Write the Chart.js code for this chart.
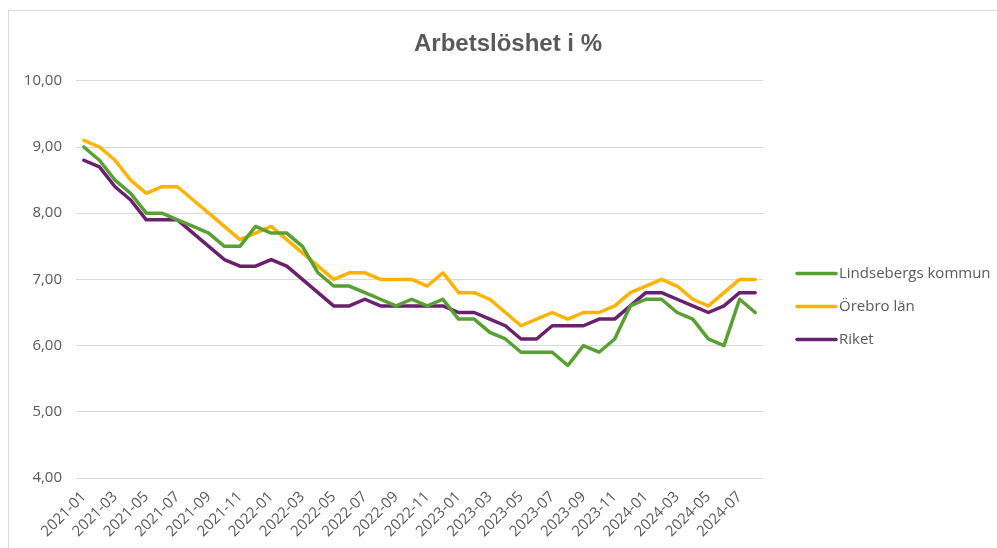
<!DOCTYPE html>
<html>
<head>
<meta charset="utf-8">
<script src="https://cdn.jsdelivr.net/npm/chart.js@4/dist/chart.umd.min.js"></script>
<style>
  html, body { margin: 0; padding: 0; background: #ffffff; }
  #wrap { position: absolute; left: 8px; top: 10px; width: 989px; height: 538px;
          border-left: 1px solid #d9d9d9; border-top: 1px solid #d9d9d9; box-sizing: border-box; }
  canvas { display: block; }
</style>
</head>
<body>
<div id="wrap"><canvas id="c" width="988" height="537"></canvas></div>
<script>
const months = [
  "2021-01","2021-02","2021-03","2021-04","2021-05","2021-06","2021-07","2021-08","2021-09","2021-10","2021-11","2021-12",
  "2022-01","2022-02","2022-03","2022-04","2022-05","2022-06","2022-07","2022-08","2022-09","2022-10","2022-11","2022-12",
  "2023-01","2023-02","2023-03","2023-04","2023-05","2023-06","2023-07","2023-08","2023-09","2023-10","2023-11","2023-12",
  "2024-01","2024-02","2024-03","2024-04","2024-05","2024-06","2024-07","2024-08"
];
const lindesberg = [
  9.0, 8.8, 8.5, 8.3, 8.0, 8.0, 7.9, 7.8, 7.7, 7.5, 7.5, 7.8,
  7.7, 7.7, 7.5, 7.1, 6.9, 6.9, 6.8, 6.7, 6.6, 6.7, 6.6, 6.7,
  6.4, 6.4, 6.2, 6.1, 5.9, 5.9, 5.9, 5.7, 6.0, 5.9, 6.1, 6.6,
  6.7, 6.7, 6.5, 6.4, 6.1, 6.0, 6.7, 6.5
];
const orebroLan = [
  9.1, 9.0, 8.8, 8.5, 8.3, 8.4, 8.4, 8.2, 8.0, 7.8, 7.6, 7.7,
  7.8, 7.6, 7.4, 7.2, 7.0, 7.1, 7.1, 7.0, 7.0, 7.0, 6.9, 7.1,
  6.8, 6.8, 6.7, 6.5, 6.3, 6.4, 6.5, 6.4, 6.5, 6.5, 6.6, 6.8,
  6.9, 7.0, 6.9, 6.7, 6.6, 6.8, 7.0, 7.0
];
const riket = [
  8.8, 8.7, 8.4, 8.2, 7.9, 7.9, 7.9, 7.7, 7.5, 7.3, 7.2, 7.2,
  7.3, 7.2, 7.0, 6.8, 6.6, 6.6, 6.7, 6.6, 6.6, 6.6, 6.6, 6.6,
  6.5, 6.5, 6.4, 6.3, 6.1, 6.1, 6.3, 6.3, 6.3, 6.4, 6.4, 6.6,
  6.8, 6.8, 6.7, 6.6, 6.5, 6.6, 6.8, 6.8
];
const seriesNames = ["Lindsebergs kommun", "Örebro län", "Riket"];
const yTicks = [4, 5, 6, 7, 8, 9, 10];

const FONT = "'Open Sans', 'Liberation Sans', sans-serif";
const GREY = "#595959";

const mk = (label, data, color) => ({
  label, data, borderColor: color, backgroundColor: color,
  borderWidth: 3.5, pointRadius: 0, pointHoverRadius: 0, tension: 0,
  borderJoinStyle: 'round', borderCapStyle: 'round', fill: false, yAxisID: 'y'
});

// Legend drawn at the right, next to the plot area
const sideLegend = {
  id: 'sideLegend',
  afterDraw(chart) {
    const ctx = chart.ctx;
    const x0 = chart.chartArea.right + 34;
    const yMid = (chart.chartArea.top + chart.chartArea.bottom) / 2 + 27;
    const step = 33;
    ctx.save();
    ctx.font = "15px " + FONT;
    ctx.textBaseline = 'middle';
    ctx.textAlign = 'left';
    chart.data.datasets.forEach((ds, i) => {
      const y = yMid + (i - 1) * step;
      ctx.strokeStyle = ds.borderColor;
      ctx.lineWidth = 3.5;
      ctx.lineCap = 'round';
      ctx.beginPath();
      ctx.moveTo(x0, y);
      ctx.lineTo(x0 + 39, y);
      ctx.stroke();
      ctx.fillStyle = GREY;
      ctx.fillText(ds.label, x0 + 42, y);
    });
    ctx.restore();
  }
};

new Chart(document.getElementById('c'), {
  type: 'line',
  data: {
    labels: months,
    datasets: [
      mk(seriesNames[0], lindesberg, "#57A133"),
      mk(seriesNames[1], orebroLan, "#FFB300"),
      mk(seriesNames[2], riket, "#6A206E")
    ]
  },
  plugins: [sideLegend],
  options: {
    responsive: false,
    animation: false,
    layout: { padding: { left: 10, right: 0, top: 0, bottom: 0 } },
    plugins: {
      title: {
        display: true, text: "Arbetslöshet i %", color: GREY,
        font: { family: "'Liberation Sans Narrow', 'Arial Narrow', sans-serif", size: 24, weight: 'bold' },
        padding: { top: 19, bottom: 22 }
      },
      legend: { display: false },
      tooltip: { enabled: false }
    },
    scales: {
      x: {
        type: 'category', offset: true,
        grid: { display: false },
        border: { display: false },
        ticks: {
          autoSkip: false, maxRotation: 45, minRotation: 45,
          color: GREY, font: { family: FONT, size: 15 }, padding: 2,
          callback: function(v, i) { return i % 2 === 0 ? this.getLabelForValue(v) : ''; }
        },
        afterFit: s => { s.height = 70; }
      },
      y: {
        min: 4, max: 10,
        afterBuildTicks: s => { s.ticks = yTicks.map(v => ({ value: v })); },
        grid: { color: "#d9d9d9", lineWidth: 1, drawTicks: false },
        border: { display: false },
        ticks: {
          color: GREY, font: { family: FONT, size: 15 }, padding: 14,
          callback: v => Number(v).toFixed(2).replace('.', ',')
        },
        afterFit: s => { s.width = 57; }
      },
      legendSpace: {
        type: 'linear', position: 'right', display: true,
        grid: { display: false }, border: { display: false },
        ticks: { display: false },
        afterFit: s => { s.width = 234; }
      }
    }
  }
});
</script>
</body>
</html>
